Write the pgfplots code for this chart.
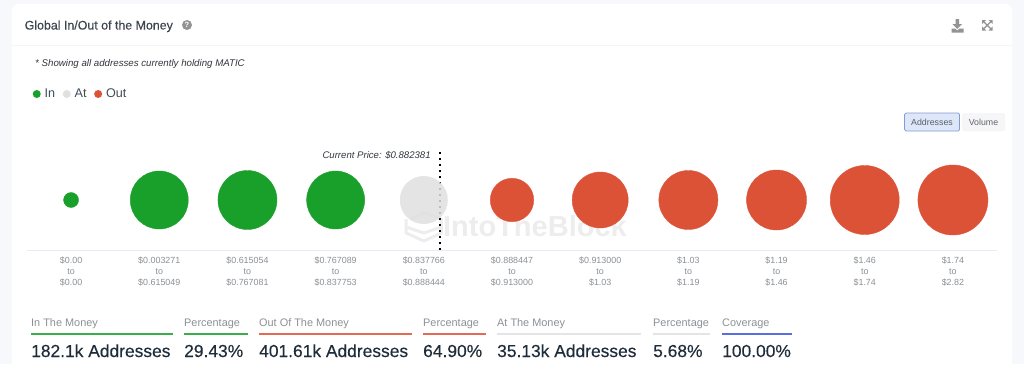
\documentclass[border=0pt]{standalone}
\usepackage{pgfplots}
\usepackage{fontspec}
\setmainfont{Liberation Sans}
\newfontfamily\medf[FakeBold=0.25]{Liberation Sans}
\pgfplotsset{compat=1.18}
\definecolor{inC}{HTML}{18A02A}
\definecolor{atC}{HTML}{E0E0E0}
\definecolor{outC}{HTML}{DC5237}
\definecolor{lab}{HTML}{8C9196}
\definecolor{dark}{HTML}{1F2D3A}
\definecolor{axl}{HTML}{E8EAF5}
\newcommand{\fs}[1]{\fontsize{#1}{#1}\selectfont}
\begin{document}
\begin{tikzpicture}[x=1pt,y=-1pt]
\path[fill={rgb,255:red,247;green,248;blue,251}] (0,0) rectangle (1024,364);
\path[fill=white,rounded corners=6pt] (12,4) -- (1012,4) -- (1012,370) -- (12,370) -- cycle;
\clip (0,0) rectangle (1024,364);
\draw[color={rgb,255:red,244;green,245;blue,247},line width=1pt] (12,45) -- (1012,45);
% header
\node[anchor=base west,inner sep=0,text={rgb,255:red,60;green,68;blue,78}] at (24.5,29.5) {\fs{12.4}\medf Global In/Out of the Money};
\path[fill=gray!85] (187,25) circle (5);
\node[text=white,inner sep=0] at (187,25) {\fs{7.5}\bfseries ?};
\node[anchor=base west,inner sep=0,text={rgb,255:red,50;green,55;blue,62}] at (35,66.5) {\fs{9.7}\itshape * Showing all addresses currently holding MATIC};
% icons
\path[fill=gray!85] (955.5,19) rectangle (959,24) (952.5,24) -- (962,24) -- (957.2,29) -- cycle;
\path[fill=gray!85] (951.5,28.5) -- (955,28.5) -- (957.2,30.5) -- (959.5,28.5) -- (963.5,28.5) -- (963.5,32.5) -- (951.5,32.5) -- cycle;
\draw[gray!85,line width=1.2pt] (983,21) -- (991.5,29.5) (991.5,21) -- (983,29.5);
\path[fill=gray!85] (982,20) -- (986,20) -- (982,24) -- cycle (992.5,20) -- (988.5,20) -- (992.5,24) -- cycle (982,30.5) -- (986,30.5) -- (982,26.5) -- cycle (992.5,30.5) -- (988.5,30.5) -- (992.5,26.5) -- cycle;
% buttons
\draw[rounded corners=1.5pt,fill={rgb,255:red,222;green,231;blue,247},draw={rgb,255:red,130;green,155;blue,215},line width=0.7pt] (904.5,113) rectangle (959.5,131);
\node[text={rgb,255:red,85;green,95;blue,110},inner sep=0] at (932,122) {\fs{8.8}Addresses};
\path[rounded corners=1.5pt,fill={rgb,255:red,246;green,246;blue,248}] (962,113) rectangle (1005,131);
\node[text={rgb,255:red,95;green,100;blue,108},inner sep=0] at (983.5,122) {\fs{8.8}Volume};
\begin{axis}[
  at={(27pt,-250pt)},anchor=south west,
  scale only axis,width=970pt,height=120pt,
  xmin=-0.5,xmax=10.5,ymin=-50,ymax=70,
  axis y line=none,axis x line=bottom,
  axis line style={color=axl,line width=1pt,-},
  xtick={0,...,10},major tick length=0pt,
  xticklabels={{\$0.00\\to\\\$0.00},{\$0.003271\\to\\\$0.615049},{\$0.615054\\to\\\$0.767081},{\$0.767089\\to\\\$0.837753},{\$0.837766\\to\\\$0.888444},{\$0.888447\\to\\\$0.913000},{\$0.913000\\to\\\$1.03},{\$1.03\\to\\\$1.19},{\$1.19\\to\\\$1.46},{\$1.46\\to\\\$1.74},{\$1.74\\to\\\$2.82}},
  xticklabel style={align=center,text=lab,inner sep=0pt,yshift=-7pt,/tikz/node font=\fontsize{8.9}{10.7}\selectfont},
  clip=false,
  legend columns=3,
  legend style={at={(axis cs:-0.435,106)},anchor=west,draw=none,fill=none,inner sep=0pt,outer sep=0pt,
    font=\fs{12.6},text=dark!85,
    /tikz/every even column/.style={column sep=5.5pt},
    /tikz/every odd column/.style={column sep=0pt}},
]
\addlegendimage{legend image code/.code={\path[draw=none,fill=inC] (0pt,0pt) circle (4pt); \path[draw=none] (6pt,0pt) circle (0pt);}}
\addlegendentry{In}
\addlegendimage{legend image code/.code={\path[draw=none,fill=atC] (0pt,0pt) circle (4pt); \path[draw=none] (6pt,0pt) circle (0pt);}}
\addlegendentry{At}
\addlegendimage{legend image code/.code={\path[draw=none,fill=outC] (0pt,0pt) circle (4pt); \path[draw=none] (6pt,0pt) circle (0pt);}}
\addlegendentry{Out}
\addplot[forget plot,scatter,only marks,mark=*,scatter src=explicit,
  scatter/use mapped color={draw=inC,fill=inC},
  visualization depends on={\thisrow{r} \as \rr},
  scatter/@pre marker code/.append style={/tikz/mark size=\rr pt}]
  table[x=i,y=y,meta=r]{
i y r
0 0 7.5
1 0 29
2 0 29.5
3 0 29
};
\addplot[forget plot,scatter,only marks,mark=*,scatter src=explicit,
  scatter/use mapped color={draw=atC,draw opacity=0,fill=atC,fill opacity=0.85},
  visualization depends on={\thisrow{r} \as \rr},
  scatter/@pre marker code/.append style={/tikz/mark size=\rr pt}]
  table[x=i,y=y,meta=r]{
i y r
4 0 24
};
\addplot[forget plot,scatter,only marks,mark=*,scatter src=explicit,
  scatter/use mapped color={draw=outC,fill=outC},
  visualization depends on={\thisrow{r} \as \rr},
  scatter/@pre marker code/.append style={/tikz/mark size=\rr pt}]
  table[x=i,y=y,meta=r]{
i y r
5 0 21.7
6 0 28
7 0 29.5
8 0 30
9 0 34.5
10 0 35
};
\addplot[forget plot,black,line width=1.6pt,dash pattern=on 1.6pt off 4.4pt] coordinates {(4.183,-50) (4.183,50)};
\node[anchor=base east,inner sep=0,text={rgb,255:red,50;green,55;blue,62}] at (axis cs:4.08,41) {\fs{9.6}\itshape Current Price: \$0.882381};
\node[anchor=center,inner sep=0,text=gray,opacity=0.14] at (axis cs:5.26,-26) {\fs{29}\bfseries IntoTheBlock};
\draw[gray,opacity=0.14,line width=3pt,line join=round] (axis cs:3.85,-19) -- (axis cs:4.0,-13) -- (axis cs:4.2,-19) -- (axis cs:4.2,-33) -- (axis cs:4.0,-41) -- (axis cs:3.8,-33) -- (axis cs:3.8,-19) (axis cs:3.8,-27) -- (axis cs:4.0,-33) -- (axis cs:4.2,-27);
\end{axis}
% stats
\foreach \x/\w/\c/\t/\v in {31/142/inC/In The Money/182.1k Addresses,184/64/inC/Percentage/29.43\%,259/153/outC/Out Of The Money/401.61k Addresses,423/63/outC/Percentage/64.90\%,497/144/atC/At The Money/35.13k Addresses,653/57/atC/Percentage/5.68\%,722/70/{rgb,255:red,60;green,85;blue,220}/Coverage/100.00\%}{
  \node[anchor=base west,inner sep=0,text=lab] at (\x,326) {\fs{10.9}\t};
  \draw[color=\c,opacity=0.85,line width=1.3pt] (\x,334) -- ++(\w,0);
  \node[anchor=base west,inner sep=0,text=dark] at (\x,357) {\fs{17.4}\medf \v};
}
\end{tikzpicture}
\end{document}
